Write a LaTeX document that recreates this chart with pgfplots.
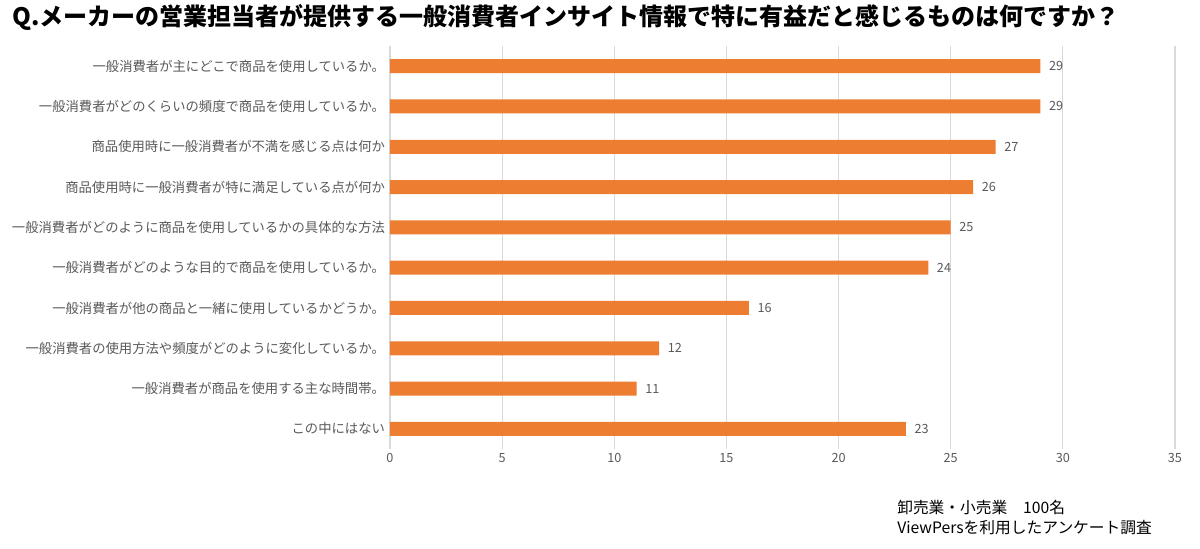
\documentclass[border=0pt]{standalone}
\usepackage{fontspec}
\setmainfont{Noto Sans CJK JP}
\usepackage{pgfplots}
\pgfplotsset{compat=1.18}
\usepackage{pgfplotstable}
\definecolor{barorange}{HTML}{ED7D31}
\definecolor{txtgray}{HTML}{595959}
\definecolor{gridgray}{HTML}{D9D9D9}

\pgfplotstableread{
idx val
0 29
1 29
2 27
3 26
4 25
5 24
6 16
7 12
8 11
9 23
}\answers

\begin{document}
\begin{tikzpicture}
\path[use as bounding box] (0,0) rectangle (900pt,411.75pt);
\node[anchor=base west, inner sep=0pt] at (9pt,392.25pt)
    {\bfseries\fontsize{18}{21}\selectfont Q.メーカーの営業担当者が提供する一般消費者インサイト情報で特に有益だと感じるものは何ですか？};
\begin{axis}[
    at={(292.5pt,75pt)}, anchor=south west,
    scale only axis,
    width=588.75pt, height=302.25pt,
    xbar,
    bar width=10.5pt,
    y dir=reverse,
    ymin=-0.5, ymax=9.5,
    ytick={0,...,9},
    yticklabels={
        一般消費者が主にどこで商品を使用しているか。,
        一般消費者がどのくらいの頻度で商品を使用しているか。,
        商品使用時に一般消費者が不満を感じる点は何か,
        商品使用時に一般消費者が特に満足している点が何か,
        一般消費者がどのように商品を使用しているかの具体的な方法,
        一般消費者がどのような目的で商品を使用しているか。,
        一般消費者が他の商品と一緒に使用しているかどうか。,
        一般消費者の使用方法や頻度がどのように変化しているか。,
        一般消費者が商品を使用する主な時間帯。,
        この中にはない
    },
    xmin=0, xmax=35,
    xtick={0,5,...,35},
    xmajorgrids,
    major grid style={gridgray, line width=0.8pt},
    axis line style={draw=none},
    tick style={draw=none},
    ticklabel style={font=\fontsize{9.5}{11}\selectfont, text=txtgray},
    /pgf/number format/assume math mode=true,
    yticklabel style={font=\fontsize{10}{12}\selectfont, text=txtgray, xshift=4pt},
    nodes near coords,
    nodes near coords style={anchor=west, font=\fontsize{9.5}{11}\selectfont, text=txtgray, xshift=3pt},
]
\addplot[fill=barorange, draw=none] table[x=val, y=idx] {\answers};
\end{axis}
\node[anchor=base west, inner sep=0pt] at (672.75pt,26.25pt) {\fontsize{11.8}{14}\selectfont 卸売業・小売業　100名};
\node[anchor=base west, inner sep=0pt] at (672.75pt,11.25pt) {\fontsize{11.8}{14}\selectfont ViewPersを利用したアンケート調査};
\end{tikzpicture}
\end{document}
